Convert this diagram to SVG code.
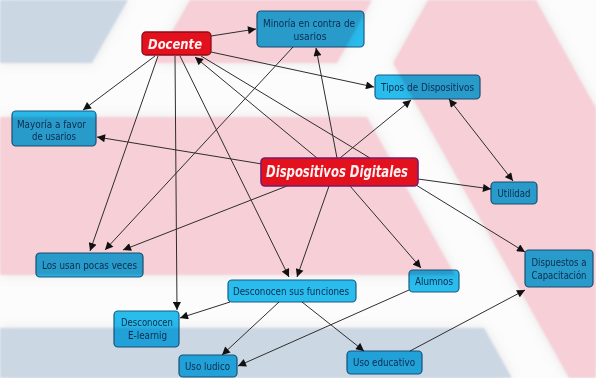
<svg xmlns="http://www.w3.org/2000/svg" width="596" height="378" viewBox="0 0 596 378">
<style>
.pink{fill:#f6cfd7}
.blue{fill:#ccd7e4}
.bn rect{fill:#29bff1;stroke:#1b5f86;stroke-width:1.2;mix-blend-mode:multiply}
.rn rect{fill:#e3111d;stroke:#8c0e1a;stroke-width:1.3}
.t{font-family:"DejaVu Sans","Liberation Sans",sans-serif;font-size:10px;fill:#0d2b4c;text-anchor:middle}
.tr{font-family:"DejaVu Sans","Liberation Sans",sans-serif;font-weight:bold;font-style:italic;fill:#fff2f2;text-anchor:middle}
.c line{stroke:#2e2e2e;stroke-width:1}
</style>
<defs>
<marker id="ah" viewBox="0 0 10 10" refX="10" refY="5" markerWidth="9" markerHeight="8" markerUnits="userSpaceOnUse" orient="auto-start-reverse">
<path d="M0,0 L10,5 L0,10 z" fill="#111"/>
</marker>
<filter id="soft" x="-10%" y="-10%" width="120%" height="120%">
<feGaussianBlur in="SourceAlpha" stdDeviation="6" result="b"/>
<feFlood flood-color="#808080" flood-opacity="0.18"/>
<feComposite in2="b" operator="in" result="sh"/>
<feGaussianBlur in="SourceGraphic" stdDeviation="1.1" result="g"/>
<feMerge><feMergeNode in="sh"/><feMergeNode in="g"/></feMerge>
</filter>
</defs>
<g id="background">
<rect width="596" height="378" fill="#fcfcfc"/>
<g filter="url(#soft)">
<polygon class="blue" points="0,0 128,0 92,63 0,63"/>
<polygon class="pink" points="190,0 372,0 337,63 154,63"/>
<polygon class="pink" points="0,117 367,117 455,275 0,275"/>
<polygon class="blue" points="0,328 484,328 512,378 0,378"/>
<polygon class="pink" points="428,0 536,0 596,108 596,378 569,378 393,63"/>
</g>
</g>
<g id="connectors" class="c">
<line x1="211" y1="36" x2="256" y2="29" marker-end="url(#ah)"/>
<line x1="211" y1="52" x2="374" y2="87" marker-end="url(#ah)"/>
<line x1="155" y1="56" x2="83" y2="110" marker-end="url(#ah)"/>
<line x1="158" y1="56" x2="90" y2="251" marker-end="url(#ah)"/>
<line x1="175" y1="56" x2="177" y2="310" marker-end="url(#ah)"/>
<line x1="180" y1="56" x2="289" y2="277" marker-end="url(#ah)"/>
<line x1="317" y1="158" x2="195" y2="57" marker-end="url(#ah)"/>
<line x1="370" y1="158" x2="201" y2="56"/>
<line x1="337" y1="158" x2="316" y2="48" marker-end="url(#ah)"/>
<line x1="293" y1="47" x2="105" y2="250" marker-end="url(#ah)"/>
<line x1="340" y1="158" x2="411" y2="100" marker-end="url(#ah)"/>
<line x1="449" y1="99" x2="513" y2="181" marker-start="url(#ah)" marker-end="url(#ah)"/>
<line x1="418" y1="179" x2="491" y2="189" marker-end="url(#ah)"/>
<line x1="416" y1="185" x2="525" y2="252" marker-end="url(#ah)"/>
<line x1="262" y1="164" x2="97" y2="137" marker-end="url(#ah)"/>
<line x1="287" y1="186" x2="123" y2="250" marker-end="url(#ah)"/>
<line x1="329" y1="186" x2="297" y2="277" marker-end="url(#ah)"/>
<line x1="350" y1="186" x2="421" y2="268" marker-end="url(#ah)"/>
<line x1="409" y1="290" x2="238" y2="366" marker-end="url(#ah)"/>
<line x1="230" y1="302" x2="180" y2="318" marker-end="url(#ah)"/>
<line x1="279" y1="302" x2="222" y2="355" marker-end="url(#ah)"/>
<line x1="302" y1="302" x2="364" y2="351" marker-end="url(#ah)"/>
<line x1="410" y1="351" x2="525" y2="290" marker-end="url(#ah)"/>
</g>
<g id="docente" class="rn">
<rect x="142" y="32" width="69" height="23" rx="4"/>
<text class="tr" x="175" y="49" font-size="14" textLength="54" lengthAdjust="spacingAndGlyphs">Docente</text>
</g>
<g id="minoria" class="bn">
<rect x="257" y="11" width="107" height="36" rx="4"/>
<text class="t" x="309" y="27" textLength="92" lengthAdjust="spacingAndGlyphs">Minoría en contra de</text>
<text class="t" x="310" y="40" textLength="33" lengthAdjust="spacingAndGlyphs">usarios</text>
</g>
<g id="tipos" class="bn">
<rect x="375" y="75" width="105" height="24" rx="4"/>
<text class="t" x="427.5" y="90.5" textLength="93" lengthAdjust="spacingAndGlyphs">Tipos de Dispositivos</text>
</g>
<g id="mayoria" class="bn">
<rect x="12" y="111" width="84" height="35" rx="4"/>
<text class="t" x="51.5" y="127.5" textLength="69" lengthAdjust="spacingAndGlyphs">Mayoría a favor</text>
<text class="t" x="54" y="139.5" textLength="44" lengthAdjust="spacingAndGlyphs">de usarios</text>
</g>
<g id="dispositivos-digitales" class="rn">
<rect x="261" y="158" width="157" height="28" rx="4" style="stroke:#7a1a6c;stroke-width:1.6"/>
<text class="tr" x="337" y="177" font-size="15" textLength="142" lengthAdjust="spacingAndGlyphs">Dispositivos Digitales</text>
</g>
<g id="utilidad" class="bn">
<rect x="491" y="182" width="46" height="22" rx="4"/>
<text class="t" x="514" y="196.5" textLength="33" lengthAdjust="spacingAndGlyphs">Utilidad</text>
</g>
<g id="dispuestos" class="bn">
<rect x="525" y="250" width="68" height="37" rx="4"/>
<text class="t" x="559" y="265.5" textLength="55" lengthAdjust="spacingAndGlyphs">Dispuestos a</text>
<text class="t" x="559" y="278.5" textLength="55" lengthAdjust="spacingAndGlyphs">Capacitación</text>
</g>
<g id="alumnos" class="bn">
<rect x="409" y="270" width="50" height="22" rx="4"/>
<text class="t" x="434" y="284.5" textLength="38" lengthAdjust="spacingAndGlyphs">Alumnos</text>
</g>
<g id="desconocen-funciones" class="bn">
<rect x="228" y="280" width="128" height="22" rx="4"/>
<text class="t" x="291" y="294.5" textLength="116" lengthAdjust="spacingAndGlyphs">Desconocen sus funciones</text>
</g>
<g id="los-usan" class="bn">
<rect x="36" y="253" width="107" height="24" rx="4"/>
<text class="t" x="89.5" y="268.5" textLength="95" lengthAdjust="spacingAndGlyphs">Los usan pocas veces</text>
</g>
<g id="elearning" class="bn">
<rect x="114" y="311" width="65" height="36" rx="4"/>
<text class="t" x="147" y="325.5" textLength="52" lengthAdjust="spacingAndGlyphs">Desconocen</text>
<text class="t" x="147.5" y="338.5" textLength="39" lengthAdjust="spacingAndGlyphs">E-learnig</text>
</g>
<g id="uso-ludico" class="bn">
<rect x="179" y="355" width="58" height="22" rx="4"/>
<text class="t" x="207.5" y="369.5" textLength="45" lengthAdjust="spacingAndGlyphs">Uso ludico</text>
</g>
<g id="uso-educativo" class="bn">
<rect x="347" y="351" width="75" height="23" rx="4"/>
<text class="t" x="384" y="365.5" textLength="62" lengthAdjust="spacingAndGlyphs">Uso educativo</text>
</g>
</svg>
